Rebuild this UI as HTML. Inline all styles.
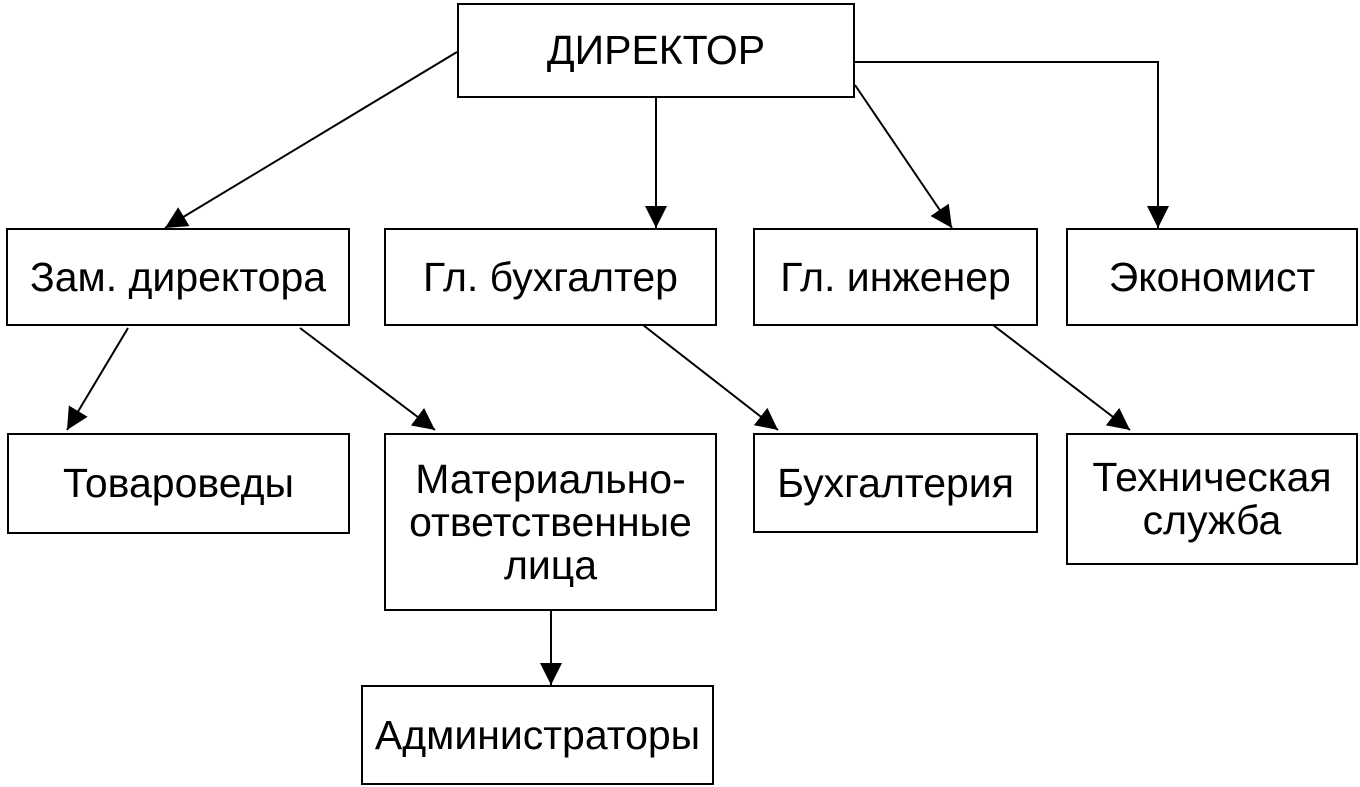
<!DOCTYPE html>
<html><head><meta charset="utf-8"><style>
body{margin:0;width:1360px;height:787px;background:#fff;position:relative;overflow:hidden;font-family:"Liberation Sans",sans-serif;}
.b{position:absolute;border:2px solid #000;box-sizing:border-box;display:flex;align-items:center;justify-content:center;text-align:center;font-size:41px;line-height:43px;color:#000;}
svg{position:absolute;left:0;top:0;}
</style></head><body>
<svg width="1360" height="787">
<defs>
<marker id="A" viewBox="0 0 10 10" refX="10" refY="5" markerWidth="22" markerHeight="22" markerUnits="userSpaceOnUse" orient="auto"><path d="M0,0 L10,5 L0,10 z" fill="#000"/></marker></defs>
<g stroke="#000" stroke-width="2" fill="none" marker-end="url(#A)">
<line x1="457" y1="52" x2="165" y2="228"/>
<line x1="656" y1="97" x2="656" y2="228"/>
<line x1="855" y1="85" x2="952" y2="228"/>
<polyline points="855,62 1158,62 1158,228"/>
<line x1="128" y1="328" x2="67" y2="430"/>
<line x1="300" y1="328" x2="435" y2="430"/>
<line x1="643" y1="325" x2="778" y2="430"/>
<line x1="993" y1="325" x2="1130" y2="430"/>
<line x1="551" y1="610" x2="551" y2="685"/>
</g></svg>
<div class="b" style="left:457px;top:3px;width:398px;height:95px">ДИРЕКТОР</div>
<div class="b" style="left:6px;top:228px;width:344px;height:98px">Зам. директора</div>
<div class="b" style="left:384px;top:228px;width:333px;height:98px">Гл. бухгалтер</div>
<div class="b" style="left:753px;top:228px;width:285px;height:98px">Гл. инженер</div>
<div class="b" style="left:1066px;top:228px;width:292px;height:98px">Экономист</div>
<div class="b" style="left:7px;top:433px;width:343px;height:101px">Товароведы</div>
<div class="b" style="left:384px;top:433px;width:333px;height:178px">Материально-<br>ответственные<br>лица</div>
<div class="b" style="left:753px;top:433px;width:285px;height:100px">Бухгалтерия</div>
<div class="b" style="left:1066px;top:433px;width:292px;height:132px">Техническая<br>служба</div>
<div class="b" style="left:361px;top:685px;width:353px;height:100px">Администраторы</div>
</body></html>
